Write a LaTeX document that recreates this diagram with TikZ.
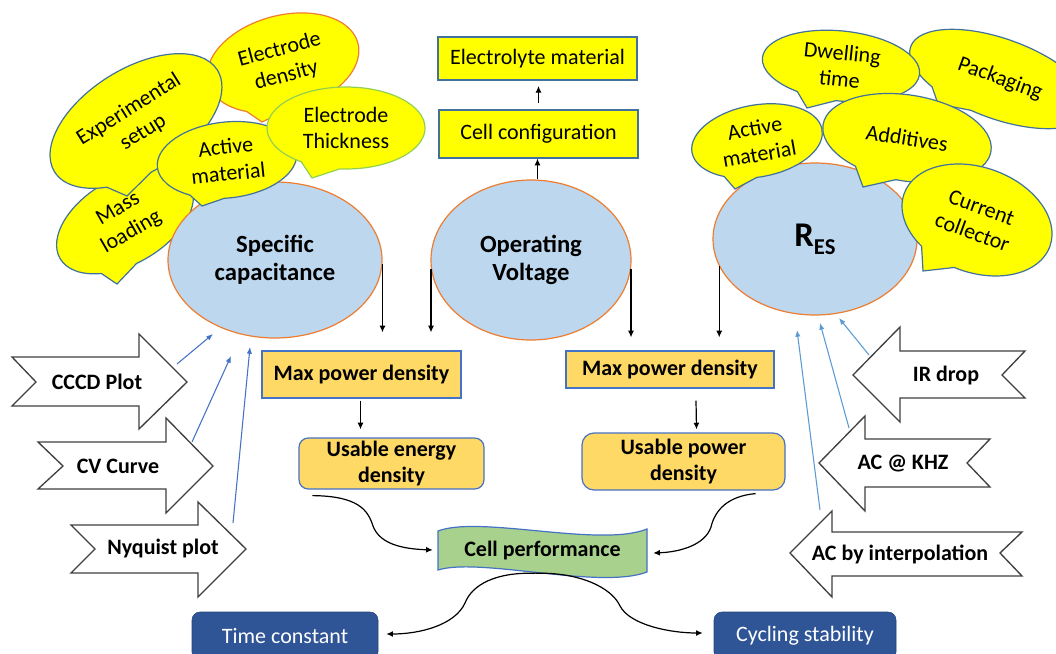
\documentclass[tikz,border=0pt]{standalone}
\usepackage{fontspec}
\setmainfont{Carlito}
\usetikzlibrary{shapes.geometric,shapes.callouts,arrows.meta,calc}
\definecolor{byel}{HTML}{FFFF00}
\definecolor{bline}{HTML}{41719C}
\definecolor{eblue}{HTML}{BDD7EE}
\definecolor{eorange}{HTML}{ED7D31}
\definecolor{bgold}{HTML}{FFD966}
\definecolor{gline}{HTML}{4472C4}
\definecolor{cgreen}{HTML}{A9D18E}
\definecolor{dblue}{HTML}{2F5597}
\definecolor{ablue}{HTML}{4472C4}
\definecolor{lblue}{HTML}{5B9BD5}
\definecolor{thgreen}{HTML}{92D050}
\definecolor{agray}{HTML}{404040}
\begin{document}
\begin{tikzpicture}[x=0.75pt,y=-0.75pt,
  wh/.style 2 args={minimum width=#1*0.75pt,minimum height=#2*0.75pt},
  txt/.style={font=\fontsize{16.5}{20}\selectfont, align=center},
  btxt/.style={font=\fontsize{16.5}{19.5}\selectfont\bfseries, align=center},
  bubble/.style={ellipse callout, draw=bline, fill=byel, line width=0.9pt, inner sep=0pt, callout pointer arc=30, txt},
  param/.style={ellipse, draw=eorange, fill=eblue, line width=0.9pt, font=\fontsize{18.5}{21}\selectfont\bfseries, align=center, inner sep=0pt},
  ybox/.style={rectangle, draw=bline, fill=byel, line width=0.9pt, txt, inner sep=0pt},
  gbox/.style={rectangle, draw=gline, fill=bgold, line width=0.9pt, btxt, inner sep=0pt},
  dbox/.style={rectangle, rounded corners=6pt, draw=dblue!80!black, fill=dblue, text=white, txt, inner sep=0pt},
  barrow/.style={draw=agray, fill=white, line width=1pt, line join=miter},
  arr/.style={-{Latex[length=5pt,width=4.5pt]}, line width=0.9pt, black},
  barr/.style={-{Latex[length=5pt,width=4pt]}, line width=0.8pt, ablue},
  larr/.style={-{Latex[length=5pt,width=4pt]}, line width=0.8pt, lblue},
]
\useasboundingbox (0,0) rectangle (1056,653);
\fill[white] (0,0) rectangle (1056,653);

% ---------- left bubbles ----------
\node[bubble, draw=eorange, wh={155}{95}, rotate=15, callout absolute pointer={(262,122)}] (edens) at (283,63) {Electrode\\density};
\node[bubble, wh={150}{86}, rotate=30, callout absolute pointer={(117,284)}] (mass) at (125,221) {Mass\\loading};
\node[bubble, wh={192}{104}, rotate=32, callout absolute pointer={(127,196)}] (setup) at (136,121) {Experimental\\setup};
\node[param, wh={214}{156}] (sc) at (275,260) {Specific\\capacitance};
\node[bubble, wh={140}{76}, rotate=6, callout absolute pointer={(202,206)}] (actl) at (227,160) {Active\\material};
\node[bubble, draw=thgreen, wh={158}{82}, callout absolute pointer={(312,178)}] (thick) at (346,128) {Electrode\\Thickness};

% ---------- right bubbles ----------
\node[bubble, wh={190}{80}, rotate=-20, callout absolute pointer={(938,104)}] (pack) at (1000,79) {Packaging};
\node[bubble, wh={158}{70}, rotate=-6, callout absolute pointer={(807,108)}] (dwell) at (841,66) {Dwelling\\time};
\node[param, wh={204}{152}] (res) at (815,239) {{\fontsize{26}{26}\selectfont R}{\fontsize{17}{17}\selectfont\raisebox{-6pt}{ES}}};
\node[bubble, wh={132}{72}, rotate=10, callout absolute pointer={(735,189)}] (actr) at (757,141) {Active\\material};
\node[bubble, wh={170}{86}, rotate=-9, callout absolute pointer={(863,187)}] (addi) at (907,138) {Additives};
\node[bubble, wh={155}{105}, rotate=-20, callout absolute pointer={(923,271)}] (curr) at (977,220) {Current\\collector};

% ---------- centre ----------
\node[param, wh={200}{160}] (ov) at (531,260) {Operating\\Voltage};
\node[ybox, wh={199}{43}] (el) at (537.5,58.5) {Electrolyte material};
\node[ybox, wh={199}{48}] (cc) at (538.5,134) {Cell configuration};
\draw[arr] ($(cc.south |- ov.north)+(-1,0)$) -- ($(cc.south)+(-1,0)$);
\draw[arr, shorten <=5pt, shorten >=4pt] (cc.north) -- (cc.north |- el.south);

% ---------- power / energy boxes ----------
\node[gbox, wh={199}{47}] (mp1) at (361.5,374.5) {Max power density};
\node[gbox, wh={208}{37}] (mp2) at (670,369.5) {Max power density};
\node[gbox, rounded corners=7pt, wh={185}{51}] (ue) at (391.5,463.5) {Usable energy\\density};
\node[gbox, rounded corners=9pt, wh={203}{57}] (up) at (683.5,461.5) {Usable power\\density};

\draw[arr] (sc.358) -- ($(sc.358 |- mp1.north)+(0,-18)$);
\draw[arr] (ov.185) -- ($(ov.185 |- mp1.north)+(0,-18)$);
\draw[arr] (ov.355) -- ($(ov.355 |- mp2.north)+(0,-13)$);
\draw[arr] (res.196) -- ($(res.196 |- mp2.north)+(0,-13)$);
\draw[arr] ($(mp1.south)+(-1,2)$) -- ($(mp1.south |- ue.north)+(-1,-8)$);
\draw[arr] ($(mp2.south)+(26,12)$) -- ($(up.north)+(13,-3)$);

% ---------- cell performance ----------
\node[btxt, wh={209}{42}, inner sep=0pt] (cp) at (542.5,551) {};
\fill[cgreen, draw=gline, line width=0.9pt]
  (438,531) .. controls (480,515) and (600,548) .. (647,529)
  -- (647,572) .. controls (600,590) and (480,557) .. (438,570) -- cycle;
\node[btxt] (cptxt) at (cp.center) {Cell performance};

\node[dbox, wh={186}{48}] (tc) at (285,636) {Time constant};
\node[dbox, wh={182}{48}] (cs) at (805,636) {Cycling stability};

\draw[arr] ($(ue.south west)+(14,6)$) .. controls (358,496) and (368,510) .. (373,526)
  .. controls (380,545) and (405,549) .. ($(cp.west)+(-5,-1)$);
\draw[arr] ($(up.south east)+(-30,3)$) .. controls (728,496) and (715,510) .. (711,527)
  .. controls (705,545) and (680,552) .. ($(cp.east)+(6,2)$);
\draw[arr] ($(cp.south)+(-7,1)$) .. controls (495,572) and (472,585) .. (465,603)
  .. controls (455,625) and (420,634) .. ($(tc.east)+(8,-2)$);
\draw[arr] ($(cp.south)+(-7,1)$) .. controls (580,572) and (612,588) .. (620,606)
  .. controls (630,625) and (670,633) .. ($(cs.west)+(-11,-3)$);

% ---------- block arrows left ----------
\draw[barrow] (12,357) -- (139,357) -- (139,334) -- (187,382) -- (139,429) -- (139,406) -- (12,406) -- (36,382) -- cycle;
\node[btxt] (cccd) at (97,382) {CCCD Plot};
\draw[barrow] (38,442) -- (166,442) -- (166,418) -- (213,466) -- (166,513) -- (166,489) -- (38,489) -- (63,466) -- cycle;
\node[btxt] (cv) at (118,466) {CV Curve};
\draw[barrow] (71,525) -- (198,525) -- (198,502) -- (246,549) -- (198,597) -- (198,573) -- (71,573) -- (95,549) -- cycle;
\node[btxt] (nyq) at (163,549) {Nyquist plot};

% ---------- block arrows right ----------
\draw[barrow] (853,375) -- (900,327) -- (900,351) -- (1025,351) -- (1002,375) -- (1025,398) -- (900,398) -- (900,422) -- cycle;
\node[btxt] (ir) at (946,376) {IR drop};
\draw[barrow] (819,463) -- (865,416) -- (865,439) -- (990,439) -- (967,463) -- (990,487) -- (865,487) -- (865,511) -- cycle;
\node[btxt] (ack) at (903,464) {AC @ KHZ};
\draw[barrow] (790,553) -- (832,511) -- (832,532) -- (1022,532) -- (1000,553) -- (1022,576) -- (832,576) -- (832,597) -- cycle;
\node[btxt] (aci) at (900,554) {AC by interpolation};

% ---------- blue arrows ----------
\coordinate (cccdS) at (177,364); \coordinate (cccdE) at (213,334);
\coordinate (cvS) at (192,442);   \coordinate (cvE) at (231,356);
\coordinate (nyqS) at (233,523);  \coordinate (nyqE) at (250,347);
\coordinate (irS) at (869,355);   \coordinate (irE) at (839,318);
\coordinate (ackS) at (849,428);  \coordinate (ackE) at (820,323);
\coordinate (aciS) at (820,510);  \coordinate (aciE) at (797,330);
\draw[barr] (cccdS) -- (cccdE);
\draw[barr] (cvS) -- (cvE);
\draw[barr] (nyqS) -- (nyqE);
\draw[larr] (irS) -- (irE);
\draw[larr] (ackS) -- (ackE);
\draw[larr] (aciS) -- (aciE);
\end{tikzpicture}
\end{document}
